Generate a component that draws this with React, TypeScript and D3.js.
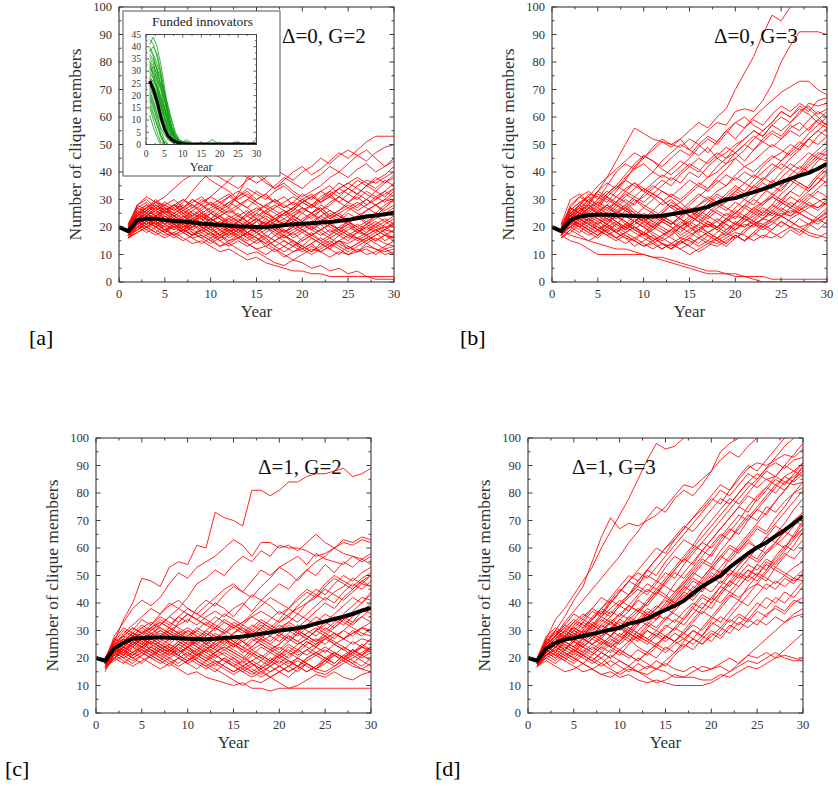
import React from "react";
import * as d3 from "d3";

const W = 838;
const H = 786;
const FONT = "'Liberation Serif', 'Times New Roman', serif";
const RED = "#ff0000";
const GREEN = "#14a014";
const AXIS = "#3a3a3a";

// runs are recorded from year 1, the means from year 0
const runYears = d3.range(1, 31);
const meanYears = d3.range(0, 31);

const parse = (rows: string[]) => rows.map((r) => r.trim().split(/\s+/).map(Number));

// [a] Δ=0, G=2
const runsA = parse([
  "19 24 27 29 28 26 29 33 37 40 38 36 34 37 39 36 34 37 40 42 39 41 44 47 45 48 51 53 53 53",
  "17 22 25 23 26 28 27 30 28 31 34 37 40 38 36 38 41 39 37 40 42 45 43 46 48 46 44 47 49 50",
  "20 28 30 27 25 28 26 24 27 29 26 28 31 33 30 32 35 38 36 34 37 39 42 40 38 41 43 40 42 45",
  "18 21 24 26 23 21 24 22 20 23 25 27 24 22 25 28 30 27 29 32 30 33 35 32 34 37 35 38 36 39",
  "16 19 22 20 18 21 19 17 20 18 16 19 21 18 16 14 17 15 13 16 18 15 17 20 22 19 21 24 27 30",
  "19 23 21 19 17 18 16 14 15 13 11 12 10 8 9 7 6 5 4 4 3 3 2 2 2 2 2 2 2 2",
  "17 20 23 21 19 20 18 16 17 15 13 14 12 10 11 9 7 6 8 7 5 6 4 5 3 4 2 1 1 1",
  "20 22 20 18 21 23 20 17 19 22 24 21 19 17 15 18 20 17 15 13 16 14 12 10 13 11 14 12 10 11",
  "18 24 27 30 27 24 22 25 23 20 22 19 17 20 18 16 19 21 24 22 25 27 24 26 29 31 28 30 33 36",
  "19 23 25 22 24 21 23 26 24 22 20 18 21 19 22 24 22 25 27 25 28 26 23 25 22 24 21 19 17 15",
  "17 21 19 22 20 17 19 21 18 20 17 15 16 14 12 13 15 13 11 12 10 12 14 12 10 11 13 12 11 12",
  "21 27 29 26 28 30 27 29 31 28 26 29 31 34 32 30 33 35 32 30 28 31 33 36 34 32 35 33 36 38",
  "20 25 23 25 27 24 22 20 22 19 21 23 21 18 20 22 19 17 19 21 19 22 20 18 16 18 17 19 20 18",
  "16 20 22 24 21 19 21 18 16 18 15 17 19 16 14 16 13 11 13 15 17 15 13 15 12 14 16 18 15 17",
  "18 22 24 27 29 27 30 28 25 23 26 24 22 25 27 25 23 21 24 26 28 30 33 31 29 32 35 37 39 42",
  "19 21 23 20 22 25 27 24 26 23 21 24 22 20 22 19 21 23 21 19 17 19 21 19 22 20 22 24 22 20",
  "17 24 22 20 18 20 22 19 17 15 17 14 16 18 16 13 11 13 15 12 14 16 14 17 15 18 20 18 21 23",
  "20 26 28 25 23 21 19 21 24 26 28 31 29 27 30 32 29 31 28 30 32 29 31 34 36 38 36 34 37 35",
  "18 19 21 23 25 23 21 23 20 18 20 22 20 18 16 14 12 10 8 10 12 11 13 15 14 16 15 17 19 21",
  "21 24 26 24 27 25 23 26 28 25 23 21 19 21 18 20 17 19 16 18 20 22 25 23 26 28 30 28 26 28",
  "19 25 23 21 19 17 19 22 20 23 21 19 17 15 17 19 21 18 20 22 24 26 23 25 27 29 27 25 24 26",
  "16 18 20 18 16 18 20 23 21 19 17 20 22 25 23 26 28 26 24 27 25 23 21 19 17 19 17 15 17 19",
  "20 27 25 28 26 24 26 23 25 27 29 27 32 38 40 37 34 36 33 31 33 35 38 40 43 46 48 45 42 44",
  "18 23 26 29 31 34 37 39 40 37 35 33 30 32 29 27 30 28 26 29 27 30 32 29 27 25 23 25 28 30",
  "17 22 20 22 19 21 18 20 22 20 17 19 16 18 20 17 15 17 14 12 14 11 13 15 13 11 12 10 12 13",
  "20 23 21 24 22 20 18 16 14 16 13 15 17 14 12 10 12 9 11 13 11 14 12 15 17 16 18 21 19 22",
  "19 28 31 29 27 25 27 30 28 26 24 22 24 26 23 21 23 25 27 29 31 29 32 34 32 35 37 36 38 40",
  "18 20 18 20 23 21 19 17 19 21 19 16 18 20 18 21 19 22 20 18 16 14 16 18 20 18 21 23 25 24",
  "21 25 27 29 26 28 25 22 20 18 16 18 20 17 19 21 19 16 18 15 17 19 21 19 17 15 17 19 17 16",
  "17 21 23 21 24 22 20 22 25 23 21 19 22 20 18 20 22 25 27 30 28 26 29 31 34 32 30 33 31 34",
  "18 22 24 21 23 20 22 24 21 19 21 23 25 22 20 23 21 18 20 23 25 27 24 22 25 23 26 28 25 27",
  "20 24 26 28 25 27 24 22 24 21 19 17 19 21 23 20 18 16 18 20 22 19 17 19 21 18 20 22 20 21",
  "17 19 21 24 26 23 25 27 30 28 30 32 29 27 24 26 23 21 23 21 19 21 18 20 18 16 14 16 14 13",
  "19 26 24 22 20 22 19 17 18 16 18 20 18 16 18 15 13 15 13 11 13 11 9 11 10 12 10 11 13 15",
  "21 23 25 23 21 24 26 28 26 29 27 25 27 24 22 25 27 29 31 29 27 29 31 29 32 30 33 31 29 32",
  "16 21 24 27 25 22 20 22 24 22 24 26 24 22 19 21 23 20 22 25 23 26 28 31 29 27 30 28 30 33",
  "18 25 28 26 24 22 24 21 23 25 23 20 18 21 23 21 24 26 23 21 19 17 19 17 19 21 19 21 23 21",
  "20 22 24 26 28 26 28 25 23 20 22 20 22 24 26 28 26 24 26 29 31 33 31 34 36 34 32 30 32 34",
  "19 21 19 17 19 17 15 17 19 17 15 13 15 13 15 17 15 17 15 13 11 13 15 13 11 13 15 17 19 18",
  "17 23 25 28 26 28 25 23 25 22 24 26 28 30 28 25 23 25 22 20 22 24 22 19 21 19 17 15 17 16",
  "21 28 26 24 26 24 21 19 21 23 21 18 20 22 25 23 21 19 17 19 21 24 26 24 22 20 18 20 22 24",
  "18 20 22 20 18 16 18 20 22 25 27 29 27 30 33 31 29 27 29 27 25 28 26 24 22 24 26 28 30 29",
  "20 25 27 24 26 28 30 27 29 31 29 31 33 31 29 27 25 23 25 27 25 22 24 26 28 26 28 31 33 31",
  "19 22 20 23 21 19 21 18 16 14 16 18 16 18 20 22 20 18 21 19 17 19 21 23 21 24 22 20 18 16",
  "16 18 20 22 19 21 19 21 19 17 19 21 23 21 19 21 19 21 24 22 20 18 16 14 12 14 16 14 12 10",
]);
const meanA = [20, 18.5, 22.5, 23, 23, 22.5, 22.2, 22, 21.6, 21.2, 21, 20.7, 20.5, 20.2, 20.2, 20, 20, 20.3, 20.6, 21, 21.2, 21.4, 21.6, 21.8, 22.2, 22.6, 23.2, 23.8, 24.2, 24.6, 25.2];

// [b] Δ=0, G=3
const runsB = parse([
  "18 24 28 31 35 38 41 44 47 45 48 51 49 52 55 58 56 60 63 70 76 82 90 97 95 100 104 108 110 112",
  "20 27 31 29 33 36 34 38 41 43 40 44 47 50 48 52 55 58 57 62 63 62 66 72 80 86 91 91 91 90",
  "17 23 26 30 28 32 35 39 43 46 44 41 39 42 45 49 52 50 54 58 56 60 63 66 69 71 73 73 70 68",
  "19 25 28 32 31 29 33 37 42 45 49 52 50 49 52 50 47 51 55 58 60 57 55 58 62 60 64 62 66 67",
  "17 21 25 28 33 38 44 50 56 54 52 51 50 52 48 46 49 45 47 50 52 55 53 57 60 58 62 64 61 63",
  "21 30 32 29 27 31 34 37 35 33 36 39 37 40 43 41 38 42 45 47 44 48 51 54 52 56 58 55 59 62",
  "19 24 22 26 29 27 25 28 31 29 32 30 27 25 28 31 34 37 35 39 42 40 43 46 44 48 51 49 53 56",
  "17 15 14 12 10 10 10 10 10 10 9 8 7 6 5 4 3 3 3 2 2 1 0 0 0 0 0 0 0 0",
  "19 17 16 15 14 13 12 12 11 10 9 9 8 7 6 5 4 4 3 3 2 2 2 1 1 1 1 1 1 1",
  "20 23 21 19 17 20 18 16 15 13 14 12 14 16 15 13 15 14 16 18 17 15 17 16 18 20 19 17 16 18",
  "16 19 17 15 17 19 16 18 20 18 16 14 13 15 17 19 21 20 22 24 23 21 23 25 24 22 20 21 23 25",
  "18 22 24 27 25 23 21 19 22 24 22 20 18 20 23 26 24 27 29 32 30 33 36 34 38 41 39 43 46 49",
  "20 25 27 24 22 25 28 26 24 27 30 33 31 29 26 28 31 29 32 35 33 37 40 43 41 45 48 52 55 58",
  "19 28 31 33 30 35 40 43 41 46 44 42 45 48 46 50 53 51 55 52 56 59 57 61 64 62 65 63 60 57",
  "17 20 23 21 19 17 19 17 15 18 16 14 12 14 16 14 17 15 13 16 18 21 23 22 24 26 25 27 29 31",
  "21 24 26 28 26 24 22 20 23 21 19 22 20 17 19 21 18 20 23 25 28 26 29 31 34 37 35 33 36 39",
  "18 23 21 23 20 18 21 24 22 20 18 16 19 21 24 22 20 22 19 21 24 27 29 32 30 28 26 29 27 30",
  "20 26 29 27 30 33 31 34 36 33 31 28 30 27 25 28 30 33 35 38 36 34 37 40 43 41 44 47 45 44",
  "19 22 20 22 25 23 20 18 20 17 15 17 19 16 18 16 14 16 18 16 19 21 20 22 20 23 25 23 22 24",
  "17 25 28 26 24 27 29 32 30 27 25 23 21 23 26 24 27 29 27 25 28 31 34 32 35 38 36 34 38 41",
  "18 21 24 27 29 32 35 33 31 34 32 30 27 29 32 35 38 40 43 45 42 44 47 50 48 46 49 52 50 53",
  "20 23 25 22 20 18 16 14 16 18 15 17 19 22 20 17 15 18 21 19 22 24 27 25 28 31 29 32 30 28",
  "16 18 21 19 17 20 22 19 21 23 21 24 22 19 21 24 27 25 23 21 20 22 21 23 25 24 26 28 27 29",
  "19 27 25 29 32 30 28 26 29 31 34 37 35 39 42 40 44 47 45 49 52 55 53 57 55 58 61 65 64 65",
  "18 24 27 25 23 21 18 16 13 15 17 14 12 15 13 16 18 16 19 22 20 23 26 24 27 25 28 31 34 37",
  "21 22 24 22 26 28 25 27 24 22 25 23 21 24 26 23 21 19 17 19 21 20 23 26 29 27 30 33 36 40",
  "17 23 20 18 21 23 26 28 25 23 20 22 25 27 24 26 29 32 30 33 36 39 37 41 44 47 50 54 57 60",
  "20 21 19 17 19 22 24 21 19 17 20 18 16 14 16 19 17 15 17 20 23 21 19 21 24 22 20 18 17 16",
  "19 25 23 27 25 28 26 24 22 25 23 26 29 27 24 22 25 28 26 29 27 25 28 31 29 27 30 28 26 29",
  "18 20 22 20 18 21 19 21 24 22 20 23 25 23 20 18 21 19 22 25 23 26 24 27 30 33 31 35 39 42",
  "19 23 26 24 27 25 23 26 24 22 20 23 21 24 27 25 28 31 29 33 31 35 38 36 40 43 41 45 48 51",
  "18 26 29 31 28 26 29 27 25 23 26 24 22 20 22 25 23 26 24 27 30 28 32 35 33 37 40 44 47 46",
  "20 24 22 25 28 31 29 33 36 34 32 35 38 36 40 38 42 45 43 47 50 48 52 55 53 57 55 59 62 60",
  "17 22 20 18 16 19 21 19 22 20 17 15 17 20 18 21 24 22 25 23 27 30 28 31 29 33 36 34 38 36",
  "19 21 24 22 19 17 15 17 15 13 15 12 14 12 10 12 14 13 15 17 15 18 21 19 22 20 23 21 24 27",
  "21 27 25 23 26 24 27 30 28 32 35 33 31 34 37 35 33 36 39 37 40 38 42 45 47 50 48 52 55 53",
  "18 23 21 19 22 20 18 21 19 22 24 22 25 23 21 24 22 20 23 26 24 22 25 28 26 29 27 30 33 31",
  "16 19 22 25 23 21 24 22 19 17 19 22 20 18 21 19 22 20 18 21 24 27 25 28 32 35 39 42 45 48",
  "20 22 20 23 21 18 16 18 16 14 12 14 12 15 13 11 13 16 14 17 15 18 16 19 22 20 18 21 19 22",
  "19 24 27 30 33 31 28 31 34 37 40 38 41 44 42 45 43 46 49 47 50 53 51 49 52 55 53 56 59 57",
  "17 20 18 21 19 21 24 22 20 18 21 19 17 20 22 20 18 20 23 21 24 22 20 23 26 24 27 25 23 26",
  "18 25 23 21 19 21 18 20 22 20 23 25 28 26 29 32 30 28 31 34 32 35 33 37 35 39 42 40 44 47",
  "20 23 26 28 25 28 31 29 26 24 22 25 28 26 24 22 20 23 21 19 22 25 23 26 24 27 25 23 21 24",
  "19 20 23 21 24 22 25 27 30 28 26 29 32 30 33 36 34 38 41 45 48 52 55 58 62 60 63 61 58 56",
  "17 22 25 23 21 24 22 20 18 16 14 16 14 12 14 16 18 16 14 17 15 17 20 18 16 19 17 20 23 21",
]);
const meanB = [20, 18.5, 22.5, 23.8, 24.3, 24.5, 24.5, 24.3, 24.2, 24, 23.8, 23.8, 24.1, 24.6, 25.2, 25.8, 26.5, 27.3, 28.8, 30, 30.5, 31.7, 32.7, 33.8, 35, 36.3, 37.5, 38.7, 39.7, 41.2, 43];

// [c] Δ=1, G=2
const runsC = parse([
  "18 26 34 40 49 48 46 53 55 54 61 60 73 71 70 68 81 81 79 81 84 84 86 87 87 88 89 86 87 89",
  "19 28 33 38 41 39 42 47 51 49 53 55 57 60 63 61 57 62 62 60 61 59 62 65 62 60 63 62 64 63",
  "17 24 29 32 35 38 36 40 38 42 47 49 52 50 54 57 55 59 57 61 60 60 59 57 58 60 62 61 63 62",
  "20 25 27 30 34 32 36 39 41 38 36 39 42 45 47 44 48 52 50 53 55 57 54 58 56 55 54 57 56 58",
  "18 23 26 29 28 31 33 31 35 33 38 41 39 43 46 44 42 46 49 53 51 48 52 55 57 60 58 57 55 57",
  "16 20 24 27 25 28 30 28 33 36 34 37 40 38 35 39 43 41 44 47 45 49 52 50 54 51 55 53 56 54",
  "19 23 22 25 27 25 28 26 29 27 30 33 31 34 32 30 28 31 34 37 35 39 42 45 43 47 50 48 51 53",
  "20 21 19 17 19 21 23 21 24 22 20 18 16 14 12 10 12 11 13 11 9 10 12 14 13 15 13 12 14 15",
  "18 22 24 22 20 18 16 18 16 14 15 13 12 11 10 11 9 9 8 9 9 9 9 9 9 9 9 9 9 9",
  "17 20 23 25 27 25 23 21 23 20 18 16 18 16 14 16 18 15 13 15 17 19 17 15 14 16 18 20 22 24",
  "19 24 26 24 27 29 27 25 28 30 28 26 24 27 25 23 21 24 22 20 18 20 18 16 15 17 19 17 16 18",
  "18 21 27 25 23 26 24 22 25 27 25 23 26 28 26 24 22 20 23 25 28 26 29 31 29 32 35 33 37 40",
  "20 24 22 20 18 21 19 22 20 18 20 23 21 19 17 19 16 14 17 15 13 16 18 16 19 22 20 23 21 23",
  "15 22 25 28 26 29 31 29 27 30 28 25 23 26 24 27 29 32 30 33 35 33 36 39 42 40 44 47 45 48",
  "18 26 30 28 31 29 27 30 32 34 32 35 37 35 38 40 37 41 39 36 38 42 45 43 47 50 48 46 49 51",
  "17 19 21 19 21 24 22 20 18 21 19 17 15 18 20 18 21 19 17 20 22 20 23 21 19 21 24 22 20 22",
  "20 25 28 31 29 27 30 28 26 24 27 25 28 26 29 31 29 27 25 28 31 29 27 30 33 31 34 37 40 43",
  "19 20 18 21 23 21 24 22 25 23 21 24 22 25 28 26 23 21 19 22 20 23 26 24 27 29 27 25 27 26",
  "16 23 25 23 26 24 22 24 21 19 22 20 18 20 17 15 17 19 22 24 22 25 27 30 28 31 34 32 35 33",
  "18 24 21 26 24 27 25 23 21 24 26 29 27 25 23 21 18 16 18 21 19 17 15 17 20 18 21 19 17 20",
  "20 27 31 29 32 30 33 31 29 27 25 28 31 29 32 30 28 26 24 22 25 23 26 24 22 25 23 21 24 27",
  "19 22 24 27 29 32 35 33 31 29 27 30 28 26 29 32 35 33 31 34 38 36 40 42 45 43 41 44 47 46",
  "17 21 23 20 22 20 23 25 23 26 24 22 20 22 20 17 19 21 19 17 15 17 20 22 24 22 20 18 21 19",
  "18 23 26 24 22 20 18 20 22 24 21 23 25 27 24 26 28 31 29 32 30 28 31 33 36 34 32 35 38 36",
  "20 22 20 22 24 26 24 27 29 31 29 27 25 23 25 22 24 27 25 23 26 29 27 25 28 26 24 22 24 23",
  "19 26 28 26 24 27 29 27 30 28 31 29 27 30 28 26 24 27 30 28 26 29 32 35 33 36 39 42 40 44",
  "17 24 26 29 27 30 32 35 33 36 34 32 30 33 31 29 32 30 28 26 29 32 30 28 31 29 27 30 28 31",
  "18 20 23 21 23 21 19 17 20 18 16 19 17 20 18 16 14 16 13 15 17 15 18 16 19 17 20 23 21 24",
  "19 24 27 25 28 26 24 22 25 23 21 19 21 23 21 19 22 20 18 21 24 22 25 27 25 28 30 28 31 33",
  "18 21 24 22 25 28 26 29 27 25 23 26 29 27 25 28 31 34 32 30 33 36 34 37 40 38 42 45 48 50",
  "20 26 24 27 25 23 20 18 20 22 19 17 19 17 15 17 15 13 15 17 19 17 15 17 19 22 20 18 16 15",
  "17 23 26 28 31 33 31 29 27 25 27 30 33 36 34 32 30 28 31 29 27 25 27 30 32 35 33 31 29 28",
  "19 22 25 27 30 28 32 35 38 36 34 32 35 33 31 33 36 39 42 40 38 41 44 42 46 49 47 45 48 46",
  "18 25 23 21 24 22 20 23 21 24 22 25 23 21 19 17 19 17 20 18 21 23 21 24 27 25 23 26 24 22",
  "20 23 21 24 27 25 28 31 29 27 24 22 24 27 25 23 26 28 26 29 32 30 28 26 29 27 30 33 35 38",
  "16 20 23 26 24 22 25 23 26 24 26 24 21 19 17 15 13 15 17 19 17 20 18 16 18 21 19 22 24 27",
  "19 27 25 27 29 31 34 32 35 38 36 34 32 30 33 31 28 26 28 31 33 31 34 32 30 33 36 39 42 41",
  "18 22 20 18 21 23 21 19 17 19 21 19 22 24 22 20 18 16 19 21 19 17 20 22 20 18 21 23 21 24",
  "20 24 26 29 27 25 23 25 23 21 23 21 19 17 15 17 15 17 15 17 15 17 19 21 23 21 19 21 19 17",
  "17 21 24 22 24 27 25 23 26 28 30 28 31 29 26 28 30 33 31 29 27 30 28 26 28 25 27 29 31 30",
  "19 25 28 31 29 31 28 30 28 26 28 25 27 29 31 33 35 37 35 33 36 38 40 43 41 44 46 49 47 50",
  "18 20 22 20 22 24 26 24 22 24 22 20 22 24 22 20 23 25 23 21 23 21 23 25 27 29 27 29 31 29",
  "20 23 25 28 26 23 21 23 21 19 21 23 26 28 26 24 27 25 23 25 28 26 24 22 20 22 20 22 25 23",
]);
const meanC = [20, 19, 23.5, 25.5, 27, 27.3, 27.4, 27.5, 27.4, 27.2, 27, 26.8, 26.8, 27, 27.3, 27.5, 27.8, 28.3, 28.8, 29.3, 30, 30.4, 30.8, 31.5, 32.5, 33.3, 34.2, 35, 36, 37.2, 38.2];

// [d] Δ=1, G=3
const runsD = parse([
  "18 25 30 35 41 46 55 64 71 67 69 68 70 72 75 79 83 82 85 88 92 95 93 97 100 104 108 110 112 115",
  "19 27 34 38 43 48 53 60 66 72 78 85 92 98 96 97 100 104 108 110 112 115 118 120 122 124 126 128 130 132",
  "20 24 28 33 37 41 45 49 53 57 62 66 71 75 73 78 81 79 83 88 95 98 100 104 106 108 110 112 114 116",
  "17 23 26 30 28 33 37 35 40 44 48 46 52 56 60 63 67 71 74 78 76 81 85 89 91 90 92 94 93 96",
  "18 26 30 27 32 35 38 36 41 45 43 48 52 50 55 59 63 61 66 70 74 78 76 80 84 88 86 90 88 91",
  "19 22 25 28 26 30 28 32 35 39 37 42 45 43 48 52 56 60 64 68 72 76 80 84 87 85 86 84 83 84",
  "20 28 31 29 33 36 34 38 41 39 43 47 50 48 53 57 55 59 62 66 70 74 78 82 85 89 91 89 92 93",
  "17 21 23 25 23 27 29 27 31 34 32 36 40 44 42 47 51 55 59 57 62 66 70 75 79 82 80 84 86 89",
  "18 24 22 26 29 27 31 29 33 31 28 32 36 34 38 42 46 50 54 58 63 67 65 70 74 72 77 81 85 88",
  "19 23 26 24 22 25 28 26 24 27 30 28 32 30 34 37 41 45 49 53 51 56 60 64 68 66 71 75 80 82",
  "18 20 18 21 23 21 19 22 25 23 26 28 26 29 27 31 35 39 43 41 46 50 54 58 56 61 65 69 74 78",
  "20 25 28 31 34 32 30 28 31 33 31 29 27 30 28 26 29 32 30 34 38 42 46 50 48 52 56 60 65 70",
  "17 22 20 23 26 24 22 20 23 21 25 28 26 24 28 31 29 33 37 35 39 43 41 46 50 48 53 57 61 66",
  "19 26 29 32 30 28 31 34 32 36 39 37 41 45 43 40 44 48 46 50 47 51 49 52 50 54 52 50 53 55",
  "18 21 24 22 20 18 16 14 13 15 17 15 13 11 12 14 13 15 17 16 18 20 18 21 20 22 20 21 20 19",
  "20 23 21 19 17 15 16 18 16 14 16 15 14 16 15 13 13 13 12 12 14 13 15 17 16 18 20 23 26 29",
  "17 19 17 15 16 18 16 14 15 13 14 12 11 12 11 10 10 10 10 11 13 15 18 21 24 27 30 33 35 36",
  "19 24 27 25 23 21 24 22 20 23 21 19 22 25 23 26 24 27 25 28 31 29 33 31 34 32 35 33 36 38",
  "18 23 21 24 22 26 29 27 25 28 26 30 33 31 35 33 37 40 38 42 40 44 42 45 47 45 48 46 49 52",
  "20 26 24 28 31 29 27 30 33 36 34 32 35 38 41 39 43 41 45 48 52 50 54 57 55 59 62 60 64 67",
  "17 24 27 30 33 31 35 38 36 40 43 46 44 48 46 44 47 51 55 53 57 61 59 63 60 58 61 64 68 72",
  "19 22 25 23 27 25 23 26 24 22 20 23 21 24 22 25 27 30 28 32 35 33 36 34 38 42 40 44 42 46",
  "18 25 28 26 24 27 25 28 30 28 31 29 27 25 28 26 30 34 38 42 46 44 48 52 50 55 53 51 49 48",
  "20 21 23 21 19 22 20 18 21 19 17 20 18 16 19 22 25 23 27 30 28 32 30 34 32 36 38 36 40 42",
  "17 23 26 29 27 30 28 32 30 34 37 41 39 43 47 51 49 53 57 61 65 63 68 72 70 75 73 77 80 84",
  "19 27 30 28 31 34 32 30 33 31 35 38 36 39 37 41 45 49 47 51 49 52 50 48 51 49 47 50 48 50",
  "18 22 25 27 29 27 25 27 24 26 29 27 31 34 38 42 46 44 48 52 56 60 58 62 60 64 68 66 70 73",
  "20 24 22 20 23 21 19 17 19 17 15 18 16 19 17 21 24 27 25 29 27 31 35 33 37 35 39 37 41 40",
  "17 21 19 22 20 18 21 24 22 26 30 34 38 36 40 44 48 52 56 54 59 63 67 71 75 79 83 81 85 88",
  "19 23 26 23 21 24 22 25 28 31 29 33 36 34 38 36 34 38 42 40 44 48 46 50 54 52 57 61 59 63",
  "18 24 27 30 28 31 34 37 35 39 42 45 43 47 51 49 54 58 62 60 64 68 72 70 74 78 82 86 84 87",
  "20 26 29 27 30 28 32 35 33 30 34 37 40 44 48 52 56 54 59 63 67 71 75 73 78 82 86 90 94 98",
  "19 22 20 23 26 24 27 25 28 32 30 34 32 36 34 38 42 46 44 49 53 57 61 65 69 73 77 81 85 90",
  "17 25 28 32 36 34 38 42 40 44 48 51 49 53 57 61 65 69 73 77 81 79 83 87 85 89 93 97 100 102",
  "18 21 24 26 24 22 25 23 26 29 27 24 22 25 28 26 29 27 31 35 33 37 41 39 43 47 45 49 47 51",
  "20 27 25 28 26 29 32 30 28 31 35 33 37 35 39 43 47 51 49 53 57 55 59 63 67 65 69 73 77 81",
  "19 23 26 28 31 29 33 31 34 32 29 27 30 28 32 30 34 38 36 40 44 48 52 56 60 64 62 66 70 68",
  "17 20 22 20 18 21 19 22 20 23 21 19 22 20 24 22 26 30 28 33 31 35 39 43 47 51 55 59 63 67",
  "18 25 28 31 29 27 30 33 37 35 39 37 35 38 42 40 44 42 46 44 48 46 50 54 52 56 54 58 56 60",
  "20 22 25 23 26 24 27 30 28 26 29 27 25 28 31 34 32 36 40 38 43 47 51 49 54 58 62 66 64 69",
  "19 24 22 26 24 28 32 36 40 44 48 52 56 60 58 63 67 71 75 79 83 81 86 90 88 92 96 100 103 105",
  "17 21 24 22 20 23 21 24 27 25 28 26 30 28 26 29 27 25 28 26 30 34 32 36 40 38 42 40 44 48",
  "18 26 24 27 30 33 31 35 38 41 39 43 47 45 49 53 57 61 59 63 67 71 75 79 77 81 85 83 87 91",
  "20 23 21 19 22 20 18 20 17 19 17 15 17 16 18 16 15 17 15 16 17 15 17 19 18 20 22 20 19 19",
  "19 22 25 28 26 30 34 38 42 46 50 48 52 56 60 64 68 66 70 74 78 76 80 84 82 85 83 86 88 86",
]);
const meanD = [20, 19, 23.5, 25.5, 26.7, 27.3, 28, 28.7, 29.5, 30.3, 31, 32.5, 33.2, 34.2, 36, 37.5, 39, 40.8, 43.5, 46, 48, 50, 53, 55.5, 58, 60.2, 62, 64.3, 66.5, 69, 71.5];

// inset of [a]: funded innovators
const runsF = parse([
  "41 44 40 33 24 14 6 2 1 0 0 0 0 0 0 0 0 0 0 0 0 0 0 0 0 0 0 0 0 0",
  "38 40 37 30 22 13 5 2 1 1 0 0 0 0 0 0 0 0 0 0 0 0 0 0 0 0 0 0 0 0",
  "35 33 28 22 15 8 3 1 0 0 0 0 0 0 0 0 0 0 0 0 0 0 0 0 0 0 0 0 0 0",
  "30 32 26 19 12 6 3 1 0 0 0 0 0 0 0 0 0 0 0 0 0 0 0 0 0 0 0 0 0 0",
  "33 29 24 17 10 4 1 0 0 0 0 0 0 0 0 0 0 0 0 0 0 0 0 0 0 0 0 0 0 0",
  "28 25 20 14 8 4 2 1 0 0 0 0 0 0 0 0 0 0 0 0 0 0 0 0 0 0 0 0 0 0",
  "25 22 17 11 5 2 1 0 0 0 0 0 0 0 0 0 0 0 0 0 0 0 0 0 0 0 0 0 0 0",
  "22 18 12 6 2 0 0 0 0 0 0 0 0 0 0 0 0 0 0 0 0 0 0 0 0 0 0 0 0 0",
  "20 16 10 4 0 0 0 0 0 0 0 0 0 0 0 0 0 0 0 0 0 0 0 0 0 0 0 0 0 0",
  "18 13 8 3 0 0 0 0 0 0 0 0 0 0 0 0 0 0 0 0 0 0 0 0 0 0 0 0 0 0",
  "15 10 5 1 0 0 0 0 0 0 0 0 0 0 0 0 0 0 0 0 0 0 0 0 0 0 0 0 0 0",
  "12 7 3 0 0 0 0 0 0 0 0 0 0 0 0 0 0 0 0 0 0 0 0 0 0 0 0 0 0 0",
  "36 34 31 27 21 15 9 4 2 1 0 0 0 0 1 0 0 0 0 0 0 0 0 0 0 0 0 0 0 0",
  "31 29 26 23 19 13 7 3 1 1 2 1 0 0 0 0 1 2 1 0 0 0 0 0 0 0 0 0 0 0",
  "27 24 21 17 12 7 4 2 1 0 0 0 0 0 0 0 0 0 0 0 0 0 0 1 1 0 0 0 1 2",
  "24 21 18 13 9 5 3 2 1 1 1 0 0 0 0 0 0 0 0 0 0 0 0 0 0 0 0 0 0 0",
  "29 27 22 16 11 6 3 1 1 0 0 0 0 0 0 0 0 0 0 0 0 0 0 0 0 0 0 0 0 0",
  "34 30 27 24 18 11 5 2 1 0 0 0 0 0 0 0 0 0 0 0 0 0 0 0 0 0 0 0 0 0",
  "23 20 15 10 6 3 1 0 0 0 0 0 0 0 0 0 0 0 0 0 0 0 0 0 0 0 0 0 0 0",
  "19 15 11 7 4 2 1 1 0 0 0 0 0 0 0 0 0 0 0 0 0 0 0 0 0 0 0 0 0 0",
  "26 23 20 16 13 10 6 3 1 0 0 0 0 0 0 0 0 0 0 0 0 0 0 0 0 0 0 0 0 0",
  "32 28 23 18 14 9 5 2 1 0 0 0 0 0 0 0 0 0 0 0 0 0 0 0 0 0 0 0 0 0",
  "40 37 33 28 20 12 6 3 2 1 0 0 0 0 0 0 0 0 0 0 0 0 0 0 0 0 0 0 0 0",
  "21 17 13 9 6 4 3 2 1 1 0 0 0 0 0 0 0 0 0 0 0 0 0 0 0 0 0 0 0 0",
  "37 35 30 25 19 12 7 3 1 0 0 0 0 0 0 0 0 0 0 0 0 0 0 0 0 0 0 0 0 0",
  "43 41 36 29 21 13 7 3 1 1 0 0 0 0 0 0 0 0 0 0 0 0 0 0 0 0 0 0 0 0",
  "34 32 29 25 21 16 10 5 2 1 1 0 0 0 0 0 0 0 0 0 0 0 0 0 0 0 0 0 0 0",
  "27 26 24 20 15 9 5 2 1 0 0 0 0 0 0 0 0 0 0 0 0 0 0 0 0 0 0 0 0 0",
  "16 12 8 4 1 0 0 0 0 0 0 0 0 0 0 0 0 0 0 0 0 0 0 0 0 0 0 0 0 0",
  "39 36 31 24 16 9 4 2 1 0 0 0 0 0 0 0 0 0 0 0 0 0 0 0 1 0 0 0 0 0",
  "24 22 19 15 11 7 5 3 2 1 1 1 0 0 0 0 0 0 0 0 0 0 0 0 0 0 0 0 0 0",
  "30 27 23 19 15 11 7 4 2 1 0 0 0 0 0 0 0 0 0 0 0 0 0 0 0 0 0 0 0 0",
]);
const meanF = [26, 22.5, 17.5, 11.5, 6.5, 3.5, 2, 1.1, 0.6, 0.3, 0.2, 0.2, 0.2, 0.2, 0.2, 0.2, 0.2, 0.2, 0.2, 0.2, 0.2, 0.2, 0.2, 0.2, 0.2, 0.2, 0.2, 0.2, 0.2, 0.2];

const yearTicks = [0, 5, 10, 15, 20, 25, 30];
const countTicks = [0, 10, 20, 30, 40, 50, 60, 70, 80, 90, 100];
const fundedTicks = [0, 5, 10, 15, 20, 25, 30, 35, 40, 45];

const PW = 275;
const PH = 275;

interface PanelProps {
  id: string;
  left: number;
  top: number;
  runs: number[][];
  mean: number[];
  note: string;
  noteDx: number;
  tag: string;
  tagX: number;
  tagY: number;
  children?: React.ReactNode;
}

function Panel({ id, left, top, runs, mean, note, noteDx, tag, tagX, tagY, children }: PanelProps) {
  const x = d3.scaleLinear().domain([0, 30]).range([left, left + PW]);
  const y = d3.scaleLinear().domain([0, 100]).range([top + PH, top]);
  const runLine = d3.line<number>().x((_, i) => x(runYears[i])).y((d) => y(d));
  const meanLine = d3.line<number>().x((_, i) => x(meanYears[i])).y((d) => y(d));
  const bottom = top + PH;
  const right = left + PW;

  const xMinor = d3.range(2.5, 30, 5);
  const yMinor = d3.range(5, 100, 10);

  return (
    <g>
      <defs>
        <clipPath id={"clip-" + id}>
          <rect x={left} y={top} width={PW} height={PH} />
        </clipPath>
      </defs>
      <g clipPath={`url(#clip-${id})`}>
        {runs.map((r, i) => (
          <path key={i} d={runLine(r) || ""} fill="none" stroke={RED} strokeWidth={0.85} />
        ))}
        <path d={meanLine(mean) || ""} fill="none" stroke="#000" strokeWidth={4} strokeLinejoin="round" />
      </g>
      {/* ticks, inward on every side */}
      <g stroke={AXIS} strokeWidth={1}>
        {yearTicks.map((t) => (
          <g key={"xt" + t}>
            <line x1={x(t)} x2={x(t)} y1={bottom} y2={bottom - 4.5} />
            <line x1={x(t)} x2={x(t)} y1={top} y2={top + 4.5} />
          </g>
        ))}
        {xMinor.map((t) => (
          <g key={"xm" + t}>
            <line x1={x(t)} x2={x(t)} y1={bottom} y2={bottom - 2.5} />
            <line x1={x(t)} x2={x(t)} y1={top} y2={top + 2.5} />
          </g>
        ))}
        {countTicks.map((t) => (
          <g key={"yt" + t}>
            <line x1={left} x2={left + 4.5} y1={y(t)} y2={y(t)} />
            <line x1={right} x2={right - 4.5} y1={y(t)} y2={y(t)} />
          </g>
        ))}
        {yMinor.map((t) => (
          <g key={"ym" + t}>
            <line x1={left} x2={left + 2.5} y1={y(t)} y2={y(t)} />
            <line x1={right} x2={right - 2.5} y1={y(t)} y2={y(t)} />
          </g>
        ))}
      </g>
      <rect x={left} y={top} width={PW} height={PH} fill="none" stroke={AXIS} strokeWidth={1.1} />
      <g fontFamily={FONT} fontSize={12.5} fill="#333">
        {yearTicks.map((t) => (
          <text key={"xl" + t} x={x(t)} y={bottom + 16} textAnchor="middle">
            {t}
          </text>
        ))}
        {countTicks.map((t) => (
          <text key={"yl" + t} x={left - 7} y={y(t)} dy="0.35em" textAnchor="end">
            {t}
          </text>
        ))}
      </g>
      <text x={(left + right) / 2} y={bottom + 35} textAnchor="middle" fontFamily={FONT} fontSize={17} fill="#333">
        Year
      </text>
      <text
        transform={`translate(${left - 44},${(top + bottom) / 2}) rotate(-90)`}
        textAnchor="middle"
        dy="0.35em"
        fontFamily={FONT}
        fontSize={17.5}
        fill="#333"
      >
        Number of clique members
      </text>
      {children}
      <text x={left + noteDx} y={top + 36} fontFamily={FONT} fontSize={21} fill="#111">
        {note}
      </text>
      <text x={tagX} y={tagY} fontFamily={FONT} fontSize={22} fill="#000">
        {tag}
      </text>
    </g>
  );
}

function Inset() {
  const box = { x: 123, y: 11, w: 157, h: 165 };
  const left = 146;
  const right = 256.5;
  const top = 34.5;
  const bottom = 144.5;
  const x = d3.scaleLinear().domain([0, 30]).range([left, right]);
  const y = d3.scaleLinear().domain([0, 45]).range([bottom, top]);
  const runLine = d3.line<number>().x((_, i) => x(runYears[i])).y((d) => y(d));
  const xMinor = d3.range(2.5, 30, 5);
  const yMinor = d3.range(2.5, 45, 5);
  return (
    <g>
      <rect x={box.x} y={box.y} width={box.w} height={box.h} fill="#fff" stroke="#555" strokeWidth={1} />
      <text x={box.x + box.w / 2 + 1} y={26} textAnchor="middle" fontFamily={FONT} fontSize={13.5} fill="#222">
        Funded innovators
      </text>
      <defs>
        <clipPath id="clip-inset">
          <rect x={left} y={top} width={right - left} height={bottom - top} />
        </clipPath>
      </defs>
      <g clipPath="url(#clip-inset)">
        {runsF.map((r, i) => (
          <path key={i} d={runLine(r) || ""} fill="none" stroke={GREEN} strokeWidth={0.8} />
        ))}
        <path d={runLine(meanF) || ""} fill="none" stroke="#000" strokeWidth={3} strokeLinejoin="round" />
      </g>
      <g stroke={AXIS} strokeWidth={0.8}>
        {yearTicks.map((t) => (
          <g key={"xt" + t}>
            <line x1={x(t)} x2={x(t)} y1={bottom} y2={bottom - 3} />
            <line x1={x(t)} x2={x(t)} y1={top} y2={top + 3} />
          </g>
        ))}
        {xMinor.map((t) => (
          <g key={"xm" + t}>
            <line x1={x(t)} x2={x(t)} y1={bottom} y2={bottom - 1.5} />
            <line x1={x(t)} x2={x(t)} y1={top} y2={top + 1.5} />
          </g>
        ))}
        {fundedTicks.map((t) => (
          <g key={"yt" + t}>
            <line x1={left} x2={left + 3} y1={y(t)} y2={y(t)} />
            <line x1={right} x2={right - 3} y1={y(t)} y2={y(t)} />
          </g>
        ))}
        {yMinor.map((t) => (
          <g key={"ym" + t}>
            <line x1={left} x2={left + 1.5} y1={y(t)} y2={y(t)} />
            <line x1={right} x2={right - 1.5} y1={y(t)} y2={y(t)} />
          </g>
        ))}
      </g>
      <rect x={left} y={top} width={right - left} height={bottom - top} fill="none" stroke={AXIS} strokeWidth={0.9} />
      <g fontFamily={FONT} fontSize={9.5} fill="#333">
        {yearTicks.map((t) => (
          <text key={"xl" + t} x={x(t)} y={bottom + 12} textAnchor="middle">
            {t}
          </text>
        ))}
        {fundedTicks.map((t) => (
          <text key={"yl" + t} x={left - 5} y={y(t)} dy="0.35em" textAnchor="end">
            {t}
          </text>
        ))}
      </g>
      <text x={(left + right) / 2} y={171} textAnchor="middle" fontFamily={FONT} fontSize={12.5} fill="#333">
        Year
      </text>
    </g>
  );
}

export default function App() {
  return (
    <svg
      width={W}
      height={H}
      viewBox={`0 0 ${W} ${H}`}
      style={{ position: "absolute", left: 0, top: 0, background: "#fff" }}
    >
      <rect width={W} height={H} fill="#fff" />
      <Panel id="a" left={119} top={7} runs={runsA} mean={meanA} note="Δ=0, G=2" noteDx={163} tag="[a]" tagX={29} tagY={345}>
        <Inset />
      </Panel>
      <Panel id="b" left={552} top={7} runs={runsB} mean={meanB} note="Δ=0, G=3" noteDx={162} tag="[b]" tagX={460} tagY={345} />
      <Panel id="c" left={96} top={438} runs={runsC} mean={meanC} note="Δ=1, G=2" noteDx={162} tag="[c]" tagX={5} tagY={776} />
      <Panel id="d" left={528} top={438} runs={runsD} mean={meanD} note="Δ=1, G=3" noteDx={44} tag="[d]" tagX={435} tagY={776} />
    </svg>
  );
}
